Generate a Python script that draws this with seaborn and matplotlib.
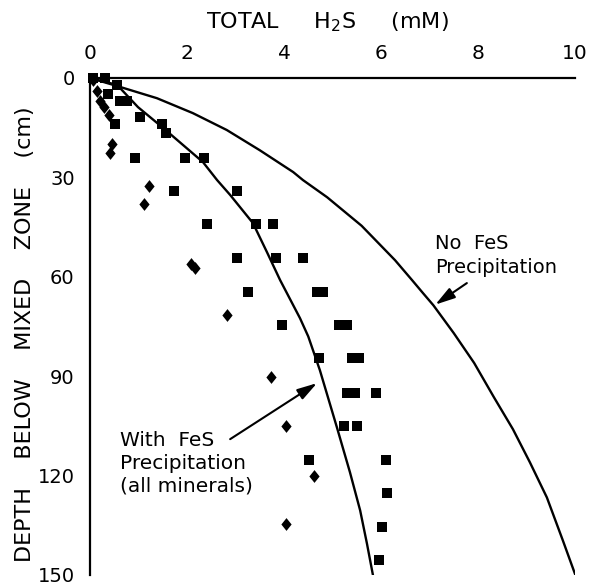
import matplotlib
matplotlib.use("Agg")
import matplotlib.pyplot as plt
import seaborn as sns

# measured points (total H2S in mM, depth in cm)
sq_h2s = [0.06, 0.30, 0.55, 0.37, 0.62, 0.76, 1.03, 0.52, 1.48, 1.57, 0.93, 1.96, 2.35,
          1.73, 3.03, 2.41, 3.42, 3.77, 3.03, 3.84, 4.39, 3.26, 4.68, 4.80, 3.96, 5.13,
          5.30, 4.72, 5.40, 5.55, 5.30, 5.46, 5.90, 5.24, 5.50, 4.52, 6.10, 6.12, 6.02, 5.96]
sq_depth = [0, 0, 2.1, 4.8, 6.8, 6.8, 11.8, 14, 14, 16.6, 24.2, 24.2, 24.2,
            34.2, 34.2, 44.2, 44.2, 44.2, 54.4, 54.4, 54.4, 64.6, 64.6, 64.6, 74.6, 74.6,
            74.6, 84.6, 84.6, 84.6, 95, 95, 95, 105, 105, 115.4, 115.4, 125.4, 135.6, 145.6]

dm_h2s = [0.07, 0.14, 0.20, 0.28, 0.40, 0.45, 0.41, 1.22, 1.11, 2.08, 2.17, 2.82,
          3.73, 4.04, 4.62, 4.04]
dm_depth = [0.5, 4, 6.8, 8.8, 11.2, 20, 22.5, 32.5, 38, 56, 57.3, 71.6,
            90.3, 105, 120, 134.5]

# model curves
no_fes_h2s = [0, 0.62, 1.38, 2.12, 2.82, 3.50, 4.19, 4.39, 4.89, 5.60, 6.29, 6.64, 6.87,
              7.08, 7.50, 7.92, 8.33, 8.72, 9.07, 9.42, 9.75, 10.02]
no_fes_depth = [0, 2.7, 6.1, 10.6, 15.7, 21.8, 28.4, 30.8, 36, 44.6, 55, 61, 65,
                68.6, 77, 86, 96.4, 106, 116, 126.6, 139.6, 150.5]

fes_h2s = [0, 0.56, 0.99, 1.51, 2.33, 2.62, 2.89, 3.36, 3.65, 3.92, 4.33, 4.50, 4.74,
           5.09, 5.36, 5.57, 5.71, 5.84]
fes_depth = [0, 2.1, 8.8, 15.1, 25.4, 30.8, 35.3, 43.8, 52.6, 61.0, 72.5, 78, 88.2,
             105.4, 119, 130.5, 140.5, 150.5]

x_ticks = [0, 2, 4, 6, 8, 10]
y_ticks = [0, 30, 60, 90, 120, 150]

sns.set_style("white")
plt.rcParams['font.family'] = ['DejaVu Sans']
plt.rcParams['mathtext.default'] = 'regular'
# seaborn greys the text, the original is plain black
for key in ['text.color', 'axes.labelcolor', 'xtick.color', 'ytick.color']:
    plt.rcParams[key] = 'black'

fig = plt.figure(figsize=(5.92, 5.85), dpi=100)
ax = fig.add_axes([0.152, 0.0171, 0.8193, 0.8496])

sns.lineplot(x=no_fes_h2s, y=no_fes_depth, sort=False, estimator=None,
             color='black', linewidth=1.7, ax=ax)
sns.lineplot(x=fes_h2s, y=fes_depth, sort=False, estimator=None,
             color='black', linewidth=1.7, ax=ax)

sns.scatterplot(x=sq_h2s, y=sq_depth, marker='s', s=52, color='black',
                linewidth=0, clip_on=False, ax=ax)
diamond = [(0, 1), (0.8, 0), (0, -1), (-0.8, 0), (0, 1)]
sns.scatterplot(x=dm_h2s, y=dm_depth, marker=diamond, s=85, color='black',
                linewidth=0, clip_on=False, ax=ax)

ax.set_xlim(0, 10)
ax.set_ylim(150, 0)
ax.xaxis.tick_top()
ax.xaxis.set_label_position('top')
ax.set_xticks(x_ticks)
ax.set_yticks(y_ticks)
ax.tick_params(axis='x', direction='in', length=10, width=1.5, pad=11, labelsize=14.5)
ax.tick_params(axis='y', direction='in', length=10, width=1.5, pad=11, labelsize=14)
sns.despine(ax=ax, top=False, right=True, bottom=True, left=False)
for side in ['top', 'left']:
    ax.spines[side].set_linewidth(1.6)
    ax.spines[side].set_color('black')

ax.set_xlabel('TOTAL     H$_2$S     (mM)', fontsize=16)
ax.xaxis.set_label_coords(0.49, 1.10)
ax.xaxis.label.set_va('baseline')
ax.set_ylabel('DEPTH    BELOW    MIXED    ZONE    (cm)', fontsize=16)
ax.yaxis.set_label_coords(-0.135, 0.485)
ax.yaxis.label.set_va('center')

arrow = dict(arrowstyle='-|>,head_length=1.2,head_width=0.35', color='black',
             lw=1.5, shrinkA=0, shrinkB=0)
ax.text(7.11, 53.5, 'No  FeS\nPrecipitation', fontsize=14, ha='left', va='center',
        linespacing=1.35)
ax.annotate('', xy=(7.12, 68.4), xytext=(7.77, 61.9), arrowprops=arrow)
ax.text(0.62, 116.3, 'With  FeS\nPrecipitation\n(all minerals)', fontsize=14.5,
        ha='left', va='center', linespacing=1.25)
ax.annotate('', xy=(4.68, 92.1), xytext=(2.89, 109), arrowprops=arrow)

plt.savefig('out.png', dpi=100)
plt.close()
